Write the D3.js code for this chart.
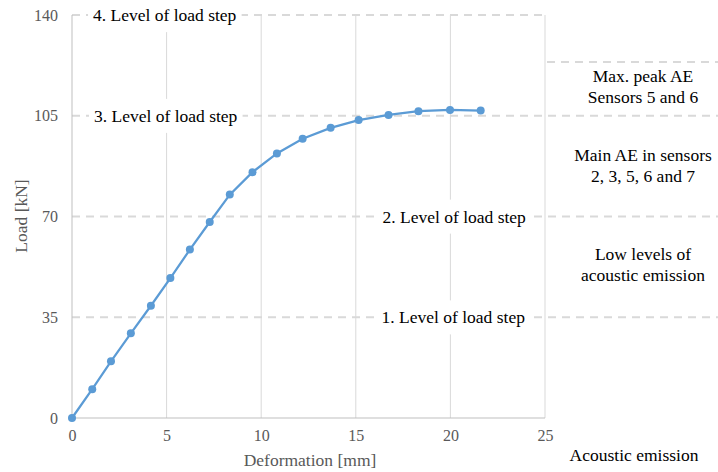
<!DOCTYPE html>
<html>
<head>
<meta charset="utf-8">
<script src="https://cdn.jsdelivr.net/npm/d3@7"></script>
<style>
  body { margin: 0; background: #fff; }
</style>
</head>
<body>
<svg width="718" height="472" font-family="Liberation Serif"></svg>
<script>
// deformation [mm] and load [kN]
var deformation = [0, 1.07, 2.06, 3.11, 4.17, 5.2, 6.23, 7.28, 8.34, 9.54, 10.83, 12.19, 13.67, 15.15, 16.73, 18.31, 19.98, 21.6];
var load = [0, 10.0, 19.7, 29.4, 39.0, 48.6, 58.5, 68.1, 77.6, 85.4, 91.9, 97.0, 100.8, 103.5, 105.3, 106.6, 107.0, 106.8];

var xTicks = [0, 5, 10, 15, 20, 25];
var yTicks = [0, 35, 70, 105, 140];

var stepLabels = ["1. Level of load step", "2. Level of load step", "3. Level of load step", "4. Level of load step"];
var stepLoads = [35, 70, 105, 140];
var stepX = [20.15, 20.2, 4.95, 4.9];

var aeLoads = [123.7];
var aeLabels = [["Max. peak AE", "Sensors 5 and 6"], ["Main AE in sensors", "2, 3, 5, 6 and 7"], ["Low levels of", "acoustic emission"]];
var aeLabelY = [87, 166, 265];

var svg = d3.select("svg");

var xScale = d3.scaleLinear().domain([0, 25]).range([72, 545]);
var yScale = d3.scaleLinear().domain([0, 140]).range([418, 15]);

// vertical gridlines
svg.append("g").selectAll("line")
    .data(xTicks.slice(1))
    .enter().append("line")
    .attr("x1", d => xScale(d)).attr("x2", d => xScale(d))
    .attr("y1", yScale(140)).attr("y2", yScale(0))
    .attr("stroke", "#d9d9d9").attr("stroke-width", 1);

// horizontal dashed gridlines
svg.append("g").selectAll("line")
    .data(yTicks.slice(1))
    .enter().append("line")
    .attr("x1", xScale(0))
    .attr("x2", d => d == 140 ? xScale(25) : 718)
    .attr("y1", d => yScale(d)).attr("y2", d => yScale(d))
    .attr("stroke", "#d9d9d9").attr("stroke-width", 2)
    .attr("stroke-dasharray", "8,6");

svg.append("g").selectAll("line")
    .data(aeLoads)
    .enter().append("line")
    .attr("x1", xScale(25) + 2).attr("x2", 718)
    .attr("y1", d => yScale(d)).attr("y2", d => yScale(d))
    .attr("stroke", "#d9d9d9").attr("stroke-width", 2)
    .attr("stroke-dasharray", "8,6");

// axis lines
svg.append("line")
    .attr("x1", xScale(0)).attr("x2", xScale(0))
    .attr("y1", yScale(140)).attr("y2", yScale(0))
    .attr("stroke", "#bfbfbf");
svg.append("line")
    .attr("x1", xScale(0)).attr("x2", xScale(25))
    .attr("y1", yScale(0)).attr("y2", yScale(0))
    .attr("stroke", "#bfbfbf");

// load step labels with white boxes
var steps = svg.append("g").selectAll("g")
    .data(stepLabels)
    .enter().append("g");
steps.append("rect").attr("fill", "#fff");
steps.append("text")
    .attr("x", (d, i) => xScale(stepX[i]))
    .attr("y", (d, i) => yScale(stepLoads[i]))
    .attr("dy", "0.35em")
    .attr("text-anchor", "middle")
    .attr("font-family", "Liberation Serif")
    .attr("font-size", 17.5)
    .attr("fill", "#000")
    .text(d => d);
steps.each(function() {
    var g = d3.select(this);
    var b = g.select("text").node().getBBox();
    g.select("rect")
        .attr("x", b.x - 5).attr("width", b.width + 10)
        .attr("y", b.y + b.height / 2 - 17).attr("height", 34);
});

// axes
var yAxis = svg.append("g")
    .attr("transform", "translate(" + xScale(0) + ",0)")
    .call(d3.axisLeft(yScale).tickValues(yTicks).tickSize(0).tickPadding(14));
var xAxis = svg.append("g")
    .attr("transform", "translate(0," + yScale(0) + ")")
    .call(d3.axisBottom(xScale).tickValues(xTicks).tickSize(0).tickPadding(12));
[yAxis, xAxis].forEach(function(a) {
    a.attr("font-family", "Liberation Serif");
    a.select(".domain").remove();
    a.selectAll("text")
        .attr("font-family", "Liberation Serif")
        .attr("font-size", 16)
        .attr("fill", "#595959");
});

// line + markers
var pts = deformation.map((d, i) => [d, load[i]]);
svg.append("path")
    .datum(pts)
    .attr("fill", "none")
    .attr("stroke", "#5b9bd5")
    .attr("stroke-width", 2.25)
    .attr("d", d3.line().x(d => xScale(d[0])).y(d => yScale(d[1])));
svg.append("g").selectAll("circle")
    .data(pts)
    .enter().append("circle")
    .attr("cx", d => xScale(d[0]))
    .attr("cy", d => yScale(d[1]))
    .attr("r", 4)
    .attr("fill", "#5b9bd5");

// axis titles
svg.append("text")
    .attr("transform", "translate(27,216) rotate(-90)")
    .attr("text-anchor", "middle")
    .attr("font-family", "Liberation Serif")
    .attr("font-size", 17.5)
    .attr("fill", "#595959")
    .text("Load [kN]");
svg.append("text")
    .attr("x", 310).attr("y", 466)
    .attr("text-anchor", "middle")
    .attr("font-family", "Liberation Serif")
    .attr("font-size", 17.5)
    .attr("fill", "#595959")
    .text("Deformation [mm]");

// acoustic emission annotations
var ae = svg.append("g").selectAll("text")
    .data(aeLabels)
    .enter().append("text")
    .attr("x", 643)
    .attr("y", (d, i) => aeLabelY[i])
    .attr("text-anchor", "middle")
    .attr("font-family", "Liberation Serif")
    .attr("font-size", 17.5)
    .attr("fill", "#000");
ae.selectAll("tspan")
    .data(d => d)
    .enter().append("tspan")
    .attr("x", 643)
    .attr("dy", (d, i) => i == 0 ? "-0.3em" : "1.2em")
    .text(d => d);

svg.append("text")
    .attr("x", 634).attr("y", 461)
    .attr("text-anchor", "middle")
    .attr("font-family", "Liberation Serif")
    .attr("font-size", 17.5)
    .attr("fill", "#000")
    .text("Acoustic emission");
</script>
</body>
</html>
